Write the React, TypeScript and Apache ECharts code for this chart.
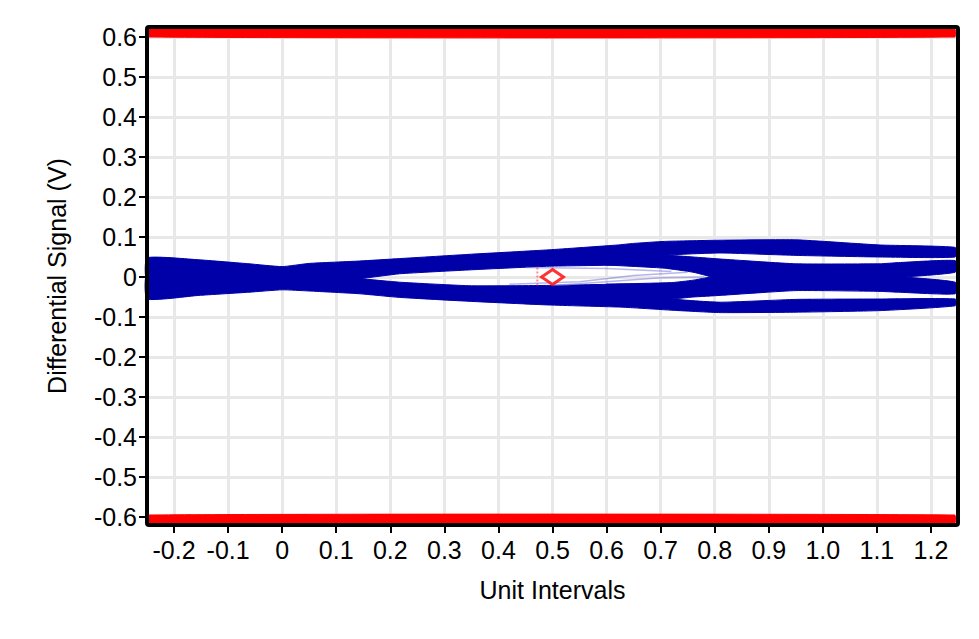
import React, { useEffect, useRef } from 'react';
import * as echarts from 'echarts';

// Axis ticks and labels
const xTickValues = [-0.2, -0.1, 0, 0.1, 0.2, 0.3, 0.4, 0.5, 0.6, 0.7, 0.8, 0.9, 1.0, 1.1, 1.2];
const xTickLabels = ['-0.2', '-0.1', '0', '0.1', '0.2', '0.3', '0.4', '0.5', '0.6', '0.7', '0.8', '0.9', '1.0', '1.1', '1.2'];
const yTickValues = [-0.6, -0.5, -0.4, -0.3, -0.2, -0.1, 0, 0.1, 0.2, 0.3, 0.4, 0.5, 0.6];
const yTickLabels = ['-0.6', '-0.5', '-0.4', '-0.3', '-0.2', '-0.1', '0', '0.1', '0.2', '0.3', '0.4', '0.5', '0.6'];

// Eye diagram bands (upper edge / lower edge in volts at each unit-interval position)
const upperTraceX = [-0.25, -0.154, -0.061, 0, 0.05, 0.144, 0.217, 0.35, 0.494, 0.62, 0.65, 0.707, 0.81, 0.95, 1.106, 1.245];
const upperTraceHigh = [0.048, 0.043, 0.033, 0.026, 0.034, 0.04, 0.046, 0.057, 0.068, 0.08, 0.084, 0.089, 0.092, 0.093, 0.08, 0.074];
const upperTraceLow = [-0.01, -0.01, -0.01, -0.01, -0.008, -0.004, 0.008, 0.018, 0.027, 0.03, 0.036, 0.054, 0.06, 0.054, 0.05, 0.05];

const lowerTraceX = [-0.25, -0.154, -0.061, 0, 0.05, 0.144, 0.217, 0.35, 0.494, 0.62, 0.65, 0.72, 0.81, 0.95, 1.106, 1.245];
const lowerTraceHigh = [0.01, 0.01, 0.01, 0.01, 0.008, -0.004, -0.013, -0.022, -0.021, -0.018, -0.02, -0.054, -0.063, -0.056, -0.055, -0.055];
const lowerTraceLow = [-0.055, -0.046, -0.038, -0.032, -0.035, -0.042, -0.051, -0.061, -0.07, -0.075, -0.077, -0.083, -0.089, -0.088, -0.084, -0.072];

const midUpperX = [0.6, 0.707, 0.76, 0.81, 0.95, 1.106, 1.14, 1.245];
const midUpperHigh = [0.03, 0.054, 0.05, 0.045, 0.033, 0.033, 0.036, 0.041];
const midUpperLow = [0.03, 0.022, 0.012, -0.004, -0.004, -0.004, -0.001, 0.012];

const midLowerX = [0.6, 0.72, 0.76, 0.81, 0.95, 1.106, 1.14, 1.245];
const midLowerHigh = [-0.018, -0.014, -0.008, 0.004, 0.004, 0.004, 0.001, -0.013];
const midLowerLow = [-0.018, -0.054, -0.05, -0.046, -0.034, -0.036, -0.038, -0.042];

// Faint traces inside the eye opening
const faintTraceA = [[0.42, -0.018], [0.55, -0.012], [0.65, 0.004], [0.75, 0.012]];
const faintTraceB = [[0.5, -0.021], [0.6, -0.012], [0.7, -0.002], [0.78, 0.0]];
const faintTraceC = [[0.45, 0.024], [0.6, 0.021], [0.72, 0.014]];

// Mask limit bands
const maskX = [-0.247, 1.244];
const topMask = [0.6, 0.62];
const bottomMask = [-0.615, -0.595];

// Eye centre marker
const eyeCenter = [[0.5, 0.0]];
const eyeMarkerLine = [[0.472, 0.024], [0.472, -0.026]];

const BLUE = '#0000a8';
const RED = '#ff0000';

type Band = { x: number[]; hi: number[]; lo: number[]; color: string };

const bands: Band[] = [
  { x: upperTraceX, hi: upperTraceHigh, lo: upperTraceLow, color: BLUE },
  { x: lowerTraceX, hi: lowerTraceHigh, lo: lowerTraceLow, color: BLUE },
  { x: midUpperX, hi: midUpperHigh, lo: midUpperLow, color: BLUE },
  { x: midLowerX, hi: midLowerHigh, lo: midLowerLow, color: BLUE },
];

const masks: Band[] = [
  { x: maskX, hi: [topMask[1], topMask[1]], lo: [topMask[0], topMask[0]], color: RED },
  { x: maskX, hi: [bottomMask[1], bottomMask[1]], lo: [bottomMask[0], bottomMask[0]], color: RED },
];

function labelFor(values: number[], labels: string[]) {
  return (v: number) => {
    const i = values.findIndex((t) => Math.abs(t - v) < 1e-6);
    return i >= 0 ? labels[i] : '';
  };
}

function bandSeries(list: Band[], z: number) {
  return {
    type: 'custom',
    z,
    silent: true,
    data: list.map((b, i) => [b.x[0], b.hi[0], i]),
    encode: { x: 0, y: 1 },
    renderItem: (params: any, api: any) => {
      const b = list[api.value(2)];
      const pts: number[][] = [];
      for (let k = 0; k < b.x.length; k++) pts.push(api.coord([b.x[k], b.hi[k]]));
      for (let k = b.x.length - 1; k >= 0; k--) pts.push(api.coord([b.x[k], b.lo[k]]));
      return {
        type: 'polygon',
        shape: { points: pts, smooth: 0.15 },
        style: { fill: b.color, stroke: b.color, lineWidth: 1 },
      };
    },
  };
}

const FONT = 'Liberation Sans, Arial, sans-serif';

export default function App() {
  const ref = useRef<HTMLDivElement>(null);
  useEffect(() => {
    if (!ref.current) return;
    const chart = echarts.init(ref.current, undefined, { renderer: 'svg' });
    const faintLine = (data: number[][]) => ({
      type: 'line',
      data,
      symbol: 'none',
      silent: true,
      z: 4,
      lineStyle: { color: 'rgba(120,120,220,0.55)', width: 1.5 },
    });
    chart.setOption({
      animation: false,
      backgroundColor: '#ffffff',
      grid: { left: 147, right: 21, top: 27, bottom: 114, show: false },
      xAxis: {
        type: 'value',
        min: -0.25,
        max: 1.25,
        name: 'Unit Intervals',
        nameLocation: 'middle',
        nameGap: 52,
        nameTextStyle: { fontFamily: FONT, fontSize: 25, color: '#000' },
        axisLine: { show: false, onZero: false },
        axisTick: { show: true, customValues: xTickValues, length: 8, lineStyle: { color: '#000', width: 2 } },
        axisLabel: {
          customValues: xTickValues,
          formatter: labelFor(xTickValues, xTickLabels),
          fontFamily: FONT,
          fontSize: 25,
          color: '#000',
          margin: 12,
        },
        splitLine: { show: true, lineStyle: { color: '#e8e8e8', width: 3 } },
      },
      yAxis: {
        type: 'value',
        min: -0.62,
        max: 0.625,
        name: 'Differential Signal (V)',
        nameLocation: 'middle',
        nameGap: 78,
        nameTextStyle: { fontFamily: FONT, fontSize: 25, color: '#000' },
        axisLine: { show: false, onZero: false },
        axisTick: { show: true, customValues: yTickValues, length: 8, lineStyle: { color: '#000', width: 2 } },
        axisLabel: {
          customValues: yTickValues,
          formatter: labelFor(yTickValues, yTickLabels),
          fontFamily: FONT,
          fontSize: 25,
          color: '#000',
          margin: 10,
        },
        splitLine: { show: true, lineStyle: { color: '#e8e8e8', width: 3 } },
      },
      graphic: [
        {
          type: 'rect',
          z: 100,
          silent: true,
          shape: { x: 147, y: 27, width: 811, height: 498, r: 2 },
          style: { fill: 'none', stroke: '#000', lineWidth: 4 },
        },
      ],
      series: [
        bandSeries(masks, 3),
        bandSeries(bands, 3),
        faintLine(faintTraceA),
        faintLine(faintTraceB),
        faintLine(faintTraceC),
        {
          type: 'line',
          data: eyeMarkerLine,
          symbol: 'none',
          silent: true,
          z: 5,
          lineStyle: { color: 'rgba(255,60,60,0.6)', width: 2, type: [2, 2] },
        },
        {
          type: 'scatter',
          data: eyeCenter,
          symbol: 'diamond',
          symbolSize: [22, 15],
          silent: true,
          z: 6,
          itemStyle: { color: '#ffffff', borderColor: RED, borderWidth: 3 },
        },
      ],
    });
    return () => chart.dispose();
  }, []);
  return (
    <div
      ref={ref}
      style={{ position: 'fixed', left: 0, top: 0, width: 979, height: 639, background: '#fff' }}
    />
  );
}
